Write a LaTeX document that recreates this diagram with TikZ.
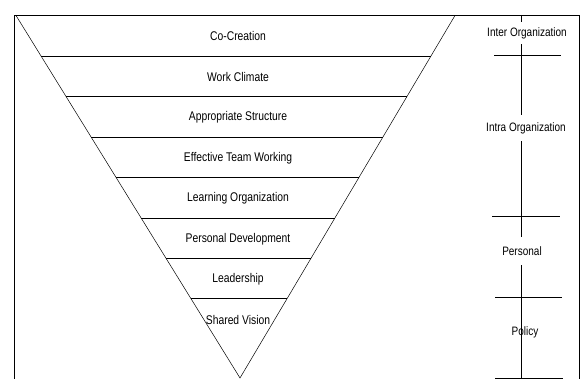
\documentclass[tikz,border=0pt]{standalone}
\usepackage{fontspec}
\newfontfamily\diagfont[FakeStretch=0.82]{Liberation Sans}
\usetikzlibrary{calc}

\begin{document}
\begin{tikzpicture}[x=1pt, y=-1pt, line width=0.5pt,
    band/.style={font=\diagfont\fontsize{12.6}{12.6}\selectfont, inner sep=1pt},
    level/.style={font=\diagfont\fontsize{12.2}{12.2}\selectfont, fill=white, inner xsep=2pt, inner ysep=5pt},
    tick/.style={line width=0.6pt}]
  \useasboundingbox (0,0) rectangle (582,379);
  % frame, open at the bottom
  \draw[line width=0.8pt] (14,379) -- (14,15) -- (579,15) -- (579,379);
  % inverted triangle
  \coordinate (tl) at (16,15.5);
  \coordinate (tr) at (455,15.5);
  \coordinate (apex) at (240,378);
  \draw (tl) -- (apex) -- (tr);
  \foreach \k in {1,...,7}
    \draw ($(tl)!\k*0.1116!(apex)$) -- ($(tr)!\k*0.1116!(apex)$);
  \foreach \txt [count=\k] in {Co-Creation, Work Climate, Appropriate Structure,
      Effective Team Working, Learning Organization, Personal Development,
      Leadership, Shared Vision}
    \node[band] (band\k) at (238, {15.5 + 40.5*(\k-1) + 21}) {\txt};
  % levels on the right
  \coordinate (axtop) at (521,15);
  \coordinate (axbot) at (521,378);
  \draw (axtop) -- (axbot);
  \foreach \y/\a/\b in {15/492/561, 55/494/561, 216/492/560, 297/495/562, 378/495/563}
    \draw[tick] (\a,\y) -- (\b,\y);
  \node[level] (inter) at (527,33) {Inter Organization};
  \node[level, inner ysep=7pt] (intra) at (526,128) {Intra Organization};
  \node[level, inner ysep=10pt] (personal) at (522,251) {Personal};
  \node[level, fill=none] (policy) at (525,332) {Policy};
\end{tikzpicture}
\end{document}
